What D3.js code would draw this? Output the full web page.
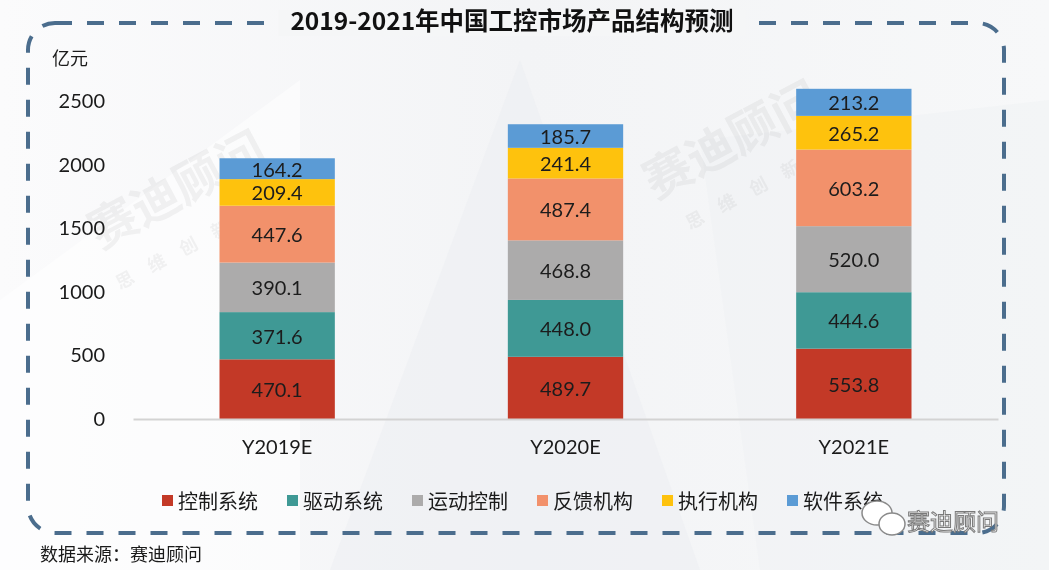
<!DOCTYPE html>
<html><head><meta charset="utf-8">
<script src="https://cdn.jsdelivr.net/npm/d3@7"></script>
<style>
html,body{margin:0;padding:0;background:#f6f7f8;}
svg{display:block;font-family:"Noto Sans CJK SC","Noto Sans",sans-serif;}
</style></head>
<body><svg id="c" width="1049" height="570"></svg>
<script>
const categories = ["Y2019E", "Y2020E", "Y2021E"];
const seriesNames = ["控制系统", "驱动系统", "运动控制", "反馈机构", "执行机构", "软件系统"];
const controlSystem = [470.1, 489.7, 553.8];
const driveSystem = [371.6, 448.0, 444.6];
const motionControl = [390.1, 468.8, 520.0];
const feedbackUnit = [447.6, 487.4, 603.2];
const actuator = [209.4, 241.4, 265.2];
const softwareSystem = [164.2, 185.7, 213.2];
const yTicks = [0, 500, 1000, 1500, 2000, 2500];
const title = "2019-2021年中国工控市场产品结构预测";
const unitLabel = "亿元";
const sourceText = "数据来源：赛迪顾问";
const brandText = "赛迪顾问";

const seriesValues = [controlSystem, driveSystem, motionControl, feedbackUnit, actuator, softwareSystem];
const colors = ["#c33927", "#3f9995", "#acabab", "#f2916b", "#fec20d", "#5b9bd5"];
const numFont = "Lato, 'Noto Sans', sans-serif";
const cjkFont = "'Noto Sans CJK SC', 'Noto Sans', sans-serif";

const rows = categories.map((c, i) => {
  const r = {cat: c};
  seriesNames.forEach((s, j) => r[s] = seriesValues[j][i]);
  return r;
});
const stack = d3.stack().keys(seriesNames)(rows);

const svg = d3.select("#c");

// background
const defs = svg.append("defs");
const g0 = defs.append("linearGradient").attr("id","bg").attr("x1","0").attr("x2","1").attr("y1","0").attr("y2","0");
g0.append("stop").attr("offset","0").attr("stop-color","#fbfbfc");
g0.append("stop").attr("offset","0.5").attr("stop-color","#f3f4f6");
g0.append("stop").attr("offset","1").attr("stop-color","#f7f8f9");
svg.append("rect").attr("width",1049).attr("height",570).attr("fill","url(#bg)");
svg.append("path").attr("d","M330,570 L520,60 L700,570 Z").attr("fill","#eceef1").attr("opacity",0.5);
svg.append("path").attr("d","M0,300 L300,80 L300,570 L0,570 Z").attr("fill","#ffffff").attr("opacity",0.5);
svg.append("path").attr("d","M700,140 L1049,100 L1049,570 L760,570 Z").attr("fill","#eef0f2").attr("opacity",0.4);

// watermark text
const wm = svg.append("g").attr("fill","#9a9a9a").attr("opacity",0.12).attr("font-weight","bold").style("font-family",cjkFont);
wm.append("text").attr("transform","translate(100,250) rotate(-28)").attr("font-size",48).text("赛迪顾问");
wm.append("text").attr("transform","translate(120,290) rotate(-28)").attr("font-size",18).attr("letter-spacing",18).text("思维创新");
wm.append("text").attr("transform","translate(655,200) rotate(-28)").attr("font-size",48).text("赛迪顾问");
wm.append("text").attr("transform","translate(690,230) rotate(-28)").attr("font-size",18).attr("letter-spacing",18).text("思维创新");

// dashed rounded border
svg.append("rect").attr("x",28).attr("y",23).attr("width",976).attr("height",510).attr("rx",27).attr("ry",27)
  .attr("fill","none").attr("stroke","#4b6d8d").attr("stroke-width",4).attr("stroke-dasharray","17 15");

// title with gap
const titleBg = svg.append("rect").attr("fill","#f5f6f7");
const tt = svg.append("text").attr("x",512).attr("y",30).attr("text-anchor","middle").style("font-family",cjkFont)
  .attr("font-size",24.5).attr("font-weight","bold").attr("fill","#111").text(title);
const bb = tt.node().getBBox();
titleBg.attr("x",bb.x-12).attr("y",10).attr("width",bb.width+24).attr("height",26);

const x = d3.scaleBand().domain(categories).range([133, 998]).paddingInner(0.6).paddingOuter(0.3);
const y = d3.scaleLinear().domain([0, 2500]).range([419, 101.5]);

// y axis labels
const ya = svg.append("g").attr("transform","translate(105,0)")
  .call(d3.axisLeft(y).tickValues(yTicks).tickSize(0).tickPadding(0).tickFormat(d3.format("d")));
ya.select(".domain").remove();
ya.selectAll("text").attr("font-size",20).attr("fill","#1a1a1a").style("font-family",numFont);

svg.append("text").attr("x",52).attr("y",65).attr("font-size",18).attr("fill","#1a1a1a").style("font-family",cjkFont).text(unitLabel);

// bars
const layers = svg.append("g").selectAll("g").data(stack).join("g").attr("fill",(d,i)=>colors[i]);
layers.selectAll("rect").data(d=>d).join("rect")
  .attr("x", d=>x(d.data.cat)).attr("width", x.bandwidth())
  .attr("y", d=>y(d[1])).attr("height", d=>y(d[0])-y(d[1]));

// labels
const lab = svg.append("g");
stack.forEach((layer) => {
  layer.forEach(d => {
    lab.append("text").attr("x", x(d.data.cat)+x.bandwidth()/2).attr("y",(y(d[0])+y(d[1]))/2)
      .attr("text-anchor","middle").attr("dominant-baseline","central")
      .attr("font-size",20).attr("fill","#1c1c1c").style("font-family",numFont)
      .text((d[1]-d[0]).toFixed(1));
  });
});

// x axis
const xa = svg.append("g").attr("transform","translate(0,419)")
  .call(d3.axisBottom(x).tickSize(0).tickPadding(21));
xa.select(".domain").attr("stroke","#d3d3d3").attr("stroke-width",2);
xa.selectAll("text").attr("font-size",20).attr("fill","#1a1a1a").style("font-family",numFont);

// legend
const lg = svg.append("g").selectAll("g").data(seriesNames).join("g")
  .attr("transform",(d,i)=>`translate(${162+i*125},500)`);
lg.append("rect").attr("x",0).attr("y",-5).attr("width",11).attr("height",11).attr("fill",(d,i)=>colors[i]);
lg.append("text").attr("x",16).attr("y",0).attr("dominant-baseline","central").attr("font-size",20).attr("fill","#1a1a1a").style("font-family",cjkFont).text(d=>d);

// source
svg.append("text").attr("x",40).attr("y",561).attr("font-size",18).attr("fill","#1a1a1a").style("font-family",cjkFont).text(sourceText);

// brand watermark
const br = svg.append("g");
br.append("ellipse").attr("cx",877).attr("cy",513).attr("rx",15).attr("ry",12).attr("fill","#fff").attr("stroke","#8a8a8a").attr("stroke-width",1.5);
br.append("ellipse").attr("cx",892).attr("cy",524).attr("rx",13).attr("ry",11).attr("fill","#fff").attr("stroke","#8a8a8a").attr("stroke-width",1.5);
br.append("text").attr("x",907).attr("y",530).attr("font-size",23).attr("fill","#ffffff").attr("stroke","#7a7a7a").attr("stroke-width",1).style("font-family",cjkFont).text(brandText);
</script></body></html>
